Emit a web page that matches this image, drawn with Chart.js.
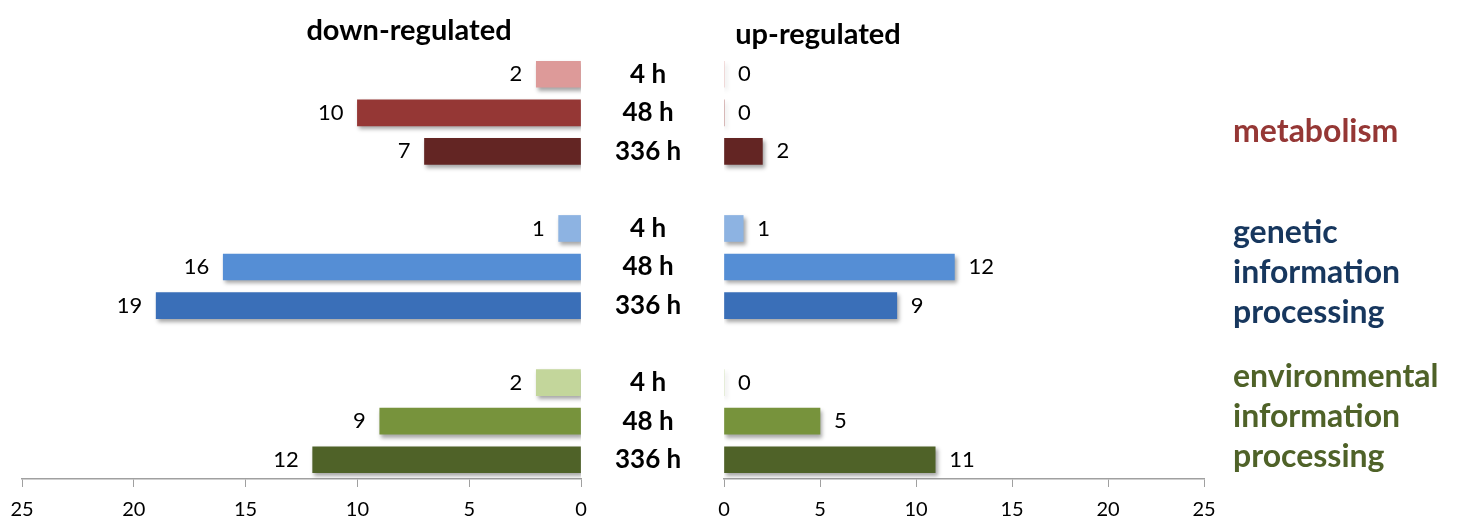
<!DOCTYPE html>
<html>
<head>
<meta charset="utf-8">
<script src="https://cdn.jsdelivr.net/npm/chart.js@4"></script>
<style>
  body { margin: 0; background: #fff; }
  #wrap { position: relative; width: 1457px; height: 518px; font-family: Lato, "Open Sans", sans-serif; }
  canvas { position: absolute; top: 0; }
  #down { left: 0; }
  #up { left: 700px; }
  .title { position: absolute; font-weight: bold; font-size: 29px; color: #000; transform: translate(-50%, -50%); white-space: nowrap; }
  .group { position: absolute; left: 1233px; font-weight: bold; font-size: 32px; line-height: 40px; white-space: nowrap; }
</style>
</head>
<body>
<div id="wrap">
  <canvas id="down" width="709" height="518"></canvas>
  <canvas id="up" width="540" height="518"></canvas>
  <div class="title" style="left:409px;top:28px">down-regulated</div>
  <div class="title" style="left:818px;top:32px">up-regulated</div>
  <div class="group" style="top:110px;color:#953735">metabolism</div>
  <div class="group" style="top:211px;color:#17375e">genetic<br>information<br>processing</div>
  <div class="group" style="top:355px;color:#4f6228">environmental<br>information<br>processing</div>
</div>
<script>
// rows: 3 time points per group, with an empty row between groups
const timeLabels = ["4 h", "48 h", "336 h", "", "4 h", "48 h", "336 h", "", "4 h", "48 h", "336 h"];
const downRegulated = [2, 10, 7, null, 1, 16, 19, null, 2, 9, 12];
const upRegulated = [0, 0, 2, null, 1, 12, 9, null, 0, 5, 11];
const barColors = [
  "#dd9a99", "#953735", "#632523", "transparent",
  "#8db3e2", "#558ed5", "#3a6fb8", "transparent",
  "#c3d69b", "#77933c", "#4f6228",
];
const axisTicks = { min: 0, max: 25, step: 5 };

const valueLabels = {
  id: "valueLabels",
  beforeDatasetsDraw(chart) {
    const ctx = chart.ctx;
    ctx.save();
    ctx.shadowColor = "rgba(0, 0, 0, 0.35)";
    ctx.shadowBlur = 4;
    ctx.shadowOffsetX = 2;
    ctx.shadowOffsetY = 3;
  },
  afterDatasetsDraw(chart, args, opts) {
    const ctx = chart.ctx;
    ctx.restore();
    const meta = chart.getDatasetMeta(0);
    const values = chart.data.datasets[0].data;
    ctx.save();
    ctx.font = "22px Lato, 'Open Sans', sans-serif";
    ctx.fillStyle = "#000";
    ctx.textBaseline = "middle";
    ctx.textAlign = opts.side === "left" ? "right" : "left";
    meta.data.forEach((bar, i) => {
      if (values[i] === null) return;
      const x = opts.side === "left" ? bar.x - 14 : bar.x + 14;
      ctx.fillText(String(values[i]), x, bar.y);
    });
    ctx.restore();
  },
};

function xScale(reverse) {
  return {
    reverse: reverse,
    min: axisTicks.min,
    max: axisTicks.max,
    afterFit: (scale) => {
      scale.height = 39;
      scale.paddingLeft = 0;
      scale.paddingRight = 0;
    },
    ticks: { stepSize: axisTicks.step, color: "#000", padding: 11, font: { size: 20, family: "Lato, 'Open Sans', sans-serif" }, maxRotation: 0 },
    grid: { drawOnChartArea: false, drawTicks: true, tickLength: 8, color: "#a0a0a0" },
    border: { display: true, color: "#a0a0a0", width: 1.5 },
  };
}

function makeChart(id, values, side) {
  const isLeft = side === "left";
  return new Chart(document.getElementById(id), {
    type: "bar",
    data: {
      labels: timeLabels,
      datasets: [{ data: values, backgroundColor: barColors, barThickness: 26, borderWidth: 0 }],
    },
    options: {
      indexAxis: "y",
      responsive: false,
      animation: false,
      layout: { padding: isLeft ? { left: 22, top: 55, right: 0, bottom: 0 } : { left: 24, top: 55, right: 36, bottom: 0 } },
      scales: {
        x: xScale(isLeft),
        y: {
          display: isLeft,
          position: "right",
          afterFit: (scale) => {
            scale.width = isLeft ? 128 : 0;
            scale.paddingTop = 0;
            scale.paddingBottom = 0;
          },
          ticks: { crossAlign: "center", padding: 34, color: "#000", font: { size: 26, weight: "bold", family: "Lato, 'Open Sans', sans-serif" } },
          grid: { display: false, drawTicks: false },
          border: { display: false },
        },
      },
      plugins: { legend: { display: false }, tooltip: { enabled: false }, valueLabels: { side: side } },
    },
    plugins: [valueLabels],
  });
}

makeChart("down", downRegulated, "left");
makeChart("up", upRegulated, "right");
</script>
</body>
</html>
